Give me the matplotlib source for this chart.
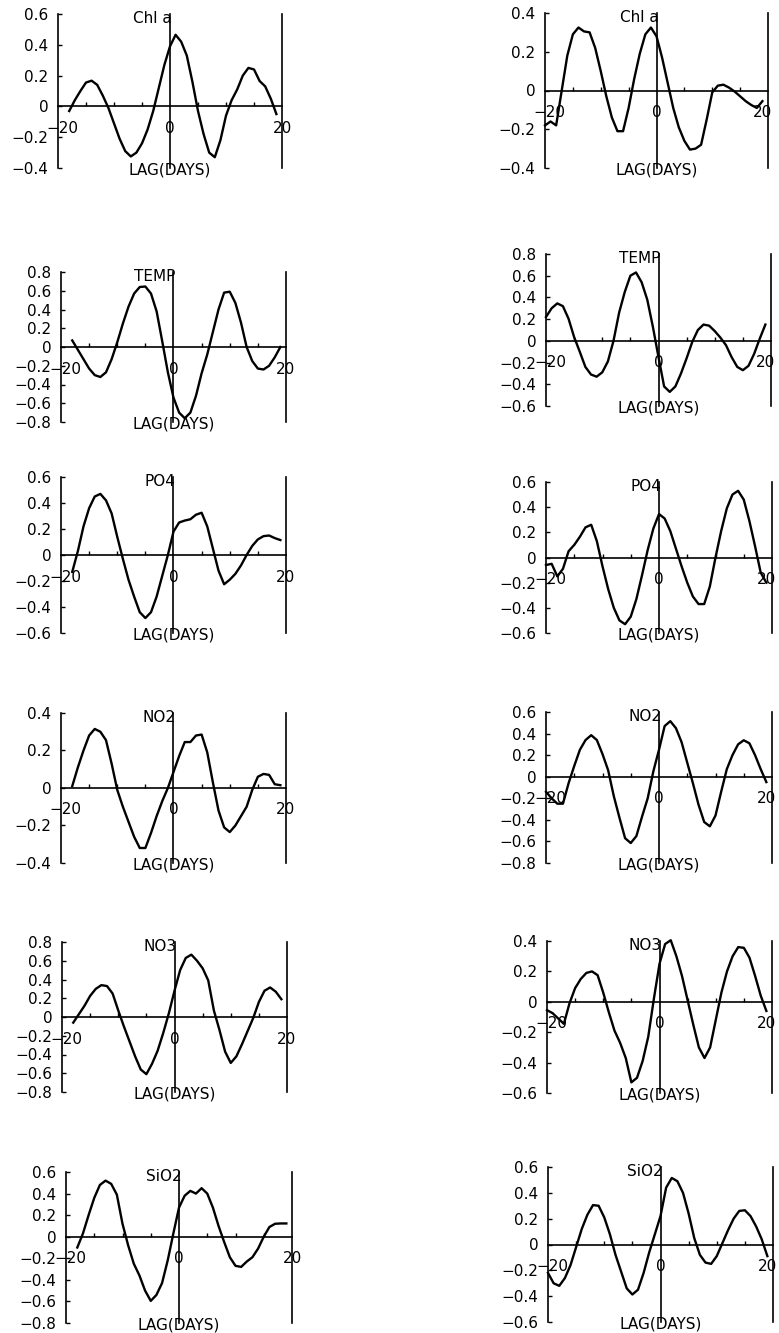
import matplotlib
matplotlib.use("Agg")
import matplotlib.pyplot as plt
from matplotlib.transforms import offset_copy
import numpy as np

# Cross-correlation of each variable against lag (days), two stations side by side
titles = ["Chl a", "TEMP", "PO4", "NO2", "NO3", "SiO2"]

ylims_left = [(-0.4, 0.6), (-0.8, 0.8), (-0.6, 0.6), (-0.4, 0.4), (-0.8, 0.8), (-0.8, 0.6)]
ylims_right = [(-0.4, 0.4), (-0.6, 0.8), (-0.6, 0.6), (-0.8, 0.6), (-0.6, 0.4), (-0.6, 0.6)]

# left column
chla_l_lag = np.arange(-18, 20)
chla_l = [-0.03, 0.04, 0.10, 0.155, 0.167, 0.14, 0.07, -0.01, -0.11, -0.21,
          -0.29, -0.325, -0.30, -0.24, -0.15, -0.03, 0.12, 0.27, 0.39, 0.465,
          0.42, 0.33, 0.16, -0.03, -0.18, -0.30, -0.33, -0.22, -0.06, 0.04,
          0.11, 0.20, 0.25, 0.24, 0.165, 0.13, 0.05, -0.05]

temp_l_lag = np.arange(-18, 20)
temp_l = [0.07, -0.03, -0.13, -0.23, -0.30, -0.32, -0.27, -0.13, 0.05, 0.25,
          0.43, 0.57, 0.64, 0.645, 0.57, 0.38, 0.06, -0.27, -0.54, -0.70,
          -0.76, -0.70, -0.52, -0.28, -0.08, 0.16, 0.40, 0.58, 0.59, 0.47,
          0.26, 0.0, -0.15, -0.23, -0.24, -0.20, -0.11, 0.0]

po4_l_lag = np.arange(-18, 20)
po4_l = [-0.13, 0.03, 0.22, 0.36, 0.45, 0.47, 0.42, 0.32, 0.14, -0.03,
         -0.19, -0.32, -0.44, -0.485, -0.44, -0.32, -0.16, 0.0, 0.18, 0.25,
         0.265, 0.275, 0.31, 0.325, 0.22, 0.05, -0.12, -0.225, -0.19, -0.145,
         -0.08, 0.0, 0.07, 0.12, 0.145, 0.15, 0.13, 0.115]

no2_l_lag = np.arange(-18, 20)
no2_l = [0.01, 0.11, 0.20, 0.28, 0.315, 0.30, 0.255, 0.13, -0.01, -0.10,
         -0.18, -0.26, -0.32, -0.32, -0.24, -0.15, -0.07, 0.0, 0.085, 0.17,
         0.245, 0.245, 0.28, 0.285, 0.19, 0.03, -0.12, -0.21, -0.235, -0.20,
         -0.15, -0.10, -0.01, 0.06, 0.075, 0.07, 0.02, 0.015]

no3_l_lag = np.arange(-18, 20)
no3_l = [-0.06, 0.03, 0.12, 0.225, 0.30, 0.34, 0.33, 0.25, 0.07, -0.10,
         -0.26, -0.42, -0.56, -0.61, -0.50, -0.36, -0.17, 0.04, 0.28, 0.50,
         0.63, 0.665, 0.60, 0.52, 0.39, 0.07, -0.14, -0.37, -0.49, -0.42,
         -0.29, -0.15, -0.01, 0.16, 0.28, 0.315, 0.27, 0.19]

sio2_l_lag = np.arange(-18, 20)
sio2_l = [-0.10, 0.03, 0.20, 0.36, 0.48, 0.52, 0.49, 0.39, 0.12, -0.08,
          -0.25, -0.36, -0.50, -0.595, -0.54, -0.43, -0.22, 0.03, 0.27, 0.38,
          0.425, 0.40, 0.45, 0.40, 0.27, 0.10, -0.05, -0.19, -0.27, -0.28,
          -0.23, -0.19, -0.11, 0.0, 0.09, 0.12, 0.123, 0.123]

# right column
chla_r_lag = np.arange(-20, 20)
chla_r = [-0.18, -0.16, -0.18, 0.0, 0.18, 0.29, 0.325, 0.305, 0.30, 0.22,
          0.10, -0.03, -0.14, -0.21, -0.21, -0.09, 0.06, 0.19, 0.29, 0.325,
          0.28, 0.17, 0.04, -0.09, -0.19, -0.26, -0.305, -0.30, -0.28, -0.15,
          -0.01, 0.025, 0.03, 0.015, -0.005, -0.03, -0.055, -0.075, -0.09, -0.055]

temp_r_lag = np.arange(-20, 20)
temp_r = [0.22, 0.30, 0.345, 0.32, 0.205, 0.035, -0.10, -0.24, -0.31, -0.33,
          -0.29, -0.19, 0.0, 0.26, 0.45, 0.60, 0.63, 0.54, 0.38, 0.13,
          -0.15, -0.42, -0.47, -0.42, -0.30, -0.16, -0.01, 0.10, 0.15, 0.14,
          0.09, 0.03, -0.04, -0.15, -0.24, -0.27, -0.23, -0.12, 0.02, 0.15]

po4_r_lag = np.arange(-20, 20)
po4_r = [-0.06, -0.05, -0.15, -0.09, 0.05, 0.10, 0.165, 0.24, 0.26, 0.13,
         -0.07, -0.25, -0.40, -0.50, -0.53, -0.47, -0.33, -0.14, 0.06, 0.23,
         0.345, 0.31, 0.21, 0.07, -0.07, -0.20, -0.31, -0.37, -0.37, -0.23,
         0.0, 0.21, 0.39, 0.50, 0.53, 0.46, 0.29, 0.09, -0.12, -0.20]

no2_r_lag = np.arange(-20, 20)
no2_r = [-0.14, -0.20, -0.25, -0.25, -0.06, 0.10, 0.25, 0.34, 0.385, 0.34,
         0.21, 0.06, -0.18, -0.38, -0.57, -0.615, -0.55, -0.37, -0.20, 0.05,
         0.25, 0.47, 0.515, 0.45, 0.32, 0.13, -0.06, -0.26, -0.42, -0.46,
         -0.36, -0.14, 0.07, 0.20, 0.30, 0.338, 0.31, 0.20, 0.07, -0.05]

no3_r_lag = np.arange(-20, 20)
no3_r = [-0.055, -0.075, -0.11, -0.145, -0.01, 0.09, 0.15, 0.19, 0.20, 0.175,
         0.06, -0.07, -0.19, -0.27, -0.37, -0.53, -0.50, -0.39, -0.23, 0.02,
         0.25, 0.38, 0.405, 0.30, 0.17, 0.01, -0.15, -0.30, -0.37, -0.30,
         -0.12, 0.06, 0.20, 0.30, 0.36, 0.355, 0.29, 0.17, 0.04, -0.06]

sio2_r_lag = np.arange(-20, 20)
sio2_r = [-0.22, -0.30, -0.32, -0.26, -0.16, -0.02, 0.12, 0.23, 0.305, 0.30,
          0.21, 0.08, -0.08, -0.21, -0.34, -0.387, -0.35, -0.22, -0.06, 0.08,
          0.22, 0.44, 0.515, 0.49, 0.40, 0.24, 0.05, -0.08, -0.14, -0.15,
          -0.09, 0.01, 0.11, 0.20, 0.26, 0.265, 0.22, 0.14, 0.04, -0.09]

left_series = [(chla_l_lag, chla_l), (temp_l_lag, temp_l), (po4_l_lag, po4_l),
               (no2_l_lag, no2_l), (no3_l_lag, no3_l), (sio2_l_lag, sio2_l)]
right_series = [(chla_r_lag, chla_r), (temp_r_lag, temp_r), (po4_r_lag, po4_r),
                (no2_r_lag, no2_r), (no3_r_lag, no3_r), (sio2_r_lag, sio2_r)]

# panel boxes in pixels: x at lag -20, x at lag +20, top, bottom
left_boxes = [(58, 282, 14, 168), (61, 286, 272, 422), (61, 286, 477, 633),
              (61, 286, 713, 863), (62, 287, 942, 1092), (66, 292, 1172, 1323)]
right_boxes = [(545, 768, 13, 168), (546, 771, 254, 406), (546, 772, 482, 633),
               (546, 772, 712, 863), (547, 772, 941, 1093), (548, 773, 1167, 1322)]

W, H = 779, 1333
plt.rcParams['font.family'] = ['DejaVu Sans']
fig = plt.figure(figsize=(W / 100, H / 100), dpi=100)
LW = 1.2


def fmt(v):
    if abs(v) < 1e-9:
        return "0"
    return f"{v:.1f}".replace("-", "\u2212")


def add_panel(box, title, ylim, lag, corr, end_label_x=20):
    x0, x1, top, bottom = box
    ax = fig.add_axes([x0 / W, 1 - bottom / H, (x1 - x0) / W, (bottom - top) / H])
    ax.set_xlim(-20, 20)
    ax.set_ylim(*ylim)
    ax.patch.set_alpha(0)
    for s in ['top', 'right', 'bottom']:
        ax.spines[s].set_visible(False)
    ax.spines['left'].set_linewidth(LW)
    ax.set_xticks([])
    yt = np.round(np.arange(ylim[0], ylim[1] + 0.01, 0.2), 1)
    ax.set_yticks(yt)
    ax.set_yticklabels([fmt(v) for v in yt])
    ax.tick_params(axis='y', direction='in', length=3, width=1.0, pad=7, labelsize=11)

    ax.axhline(0, color='black', lw=LW, clip_on=False)
    ax.axvline(0, color='black', lw=LW, clip_on=False)
    ax.axvline(20, color='black', lw=LW, clip_on=False)
    ax.plot([-15, -10, -5, 5, 10, 15], [0] * 6, ls='none', marker=2, ms=3,
            mew=1.0, color='black', clip_on=False)
    ax.plot(lag, corr, color='black', lw=1.7, clip_on=False)

    below = offset_copy(ax.transData, fig=fig, y=-22, units='dots')
    for x, s in [(-19.3, "\u221220"), (0, "0"), (end_label_x, "20")]:
        ax.text(x, 0, s, transform=below, ha='center', va='center', fontsize=11)

    top_tr = offset_copy(ax.get_xaxis_transform(), fig=fig, y=3, units='dots')
    ax.text(0.4, 1.0, title, transform=top_tr, ha='right', va='top', fontsize=11)
    bot_tr = offset_copy(ax.get_xaxis_transform(), fig=fig, y=-2, units='dots')
    ax.text(0, 0.0, "LAG(DAYS)", transform=bot_tr, ha='center', va='center', fontsize=11)
    return ax


for i, title in enumerate(titles):
    add_panel(left_boxes[i], title, ylims_left[i], *left_series[i])
    add_panel(right_boxes[i], title, ylims_right[i], *right_series[i], end_label_x=19.0)

fig.savefig("out.png", dpi=100, facecolor='white')
